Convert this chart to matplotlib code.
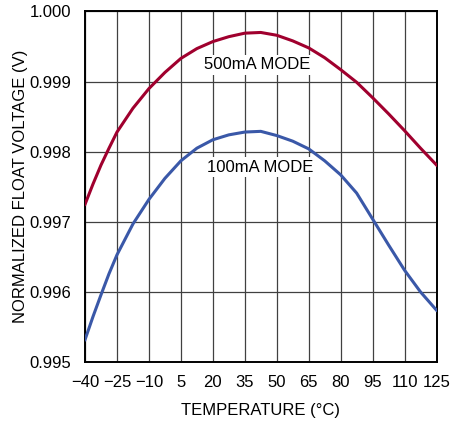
import matplotlib
matplotlib.use("Agg")
import matplotlib.pyplot as plt

plt.rcParams.update({
    "font.family": ["Liberation Sans", "DejaVu Sans"],
    "font.size": 12,
})

# data
temp = [-40, -36.25, -32.5, -28.75, -25, -17.5, -10, -2.5, 5, 12.5, 20, 27.5,
        35, 42.5, 50, 57.5, 65, 72.5, 80, 83.75, 87.5, 95, 102.5, 110,
        117.5, 125]
v_500ma = [0.99725, 0.99754, 0.99781, 0.99805, 0.99828, 0.99862, 0.99890,
           0.99913, 0.99933, 0.99947, 0.99957, 0.99964,
           0.99969, 0.99970, 0.99966, 0.99958, 0.99948, 0.99934, 0.99917,
           0.99908, 0.99899, 0.99877, 0.99854, 0.99830, 0.99805, 0.99781]
v_100ma = [0.99532, 0.99565, 0.99596, 0.99626, 0.99653, 0.99697, 0.99732,
           0.99762, 0.99787, 0.99805, 0.99817, 0.99824,
           0.99828, 0.99829, 0.99823, 0.99815, 0.99804, 0.99787, 0.99767,
           0.99754, 0.99741, 0.99704, 0.99667, 0.99631, 0.99600, 0.99574]

xticks = [-40, -25, -10, 5, 20, 35, 50, 65, 80, 95, 110, 125]
xtick_labels = ["\u221240", "\u221225", "\u221210", "5", "20", "35", "50",
                "65", "80", "95", "110", "125"]
yticks = [0.995, 0.996, 0.997, 0.998, 0.999, 1.000]

RED = "#A0002E"
BLUE = "#3A58A8"

fig = plt.figure(figsize=(4.5, 4.23), dpi=100)
ax = fig.add_axes([0.189, 0.144, 0.781, 0.829])

ax.plot(temp, v_500ma, color=RED, lw=2.2, zorder=3)
ax.plot(temp, v_100ma, color=BLUE, lw=2.2, zorder=3)

ax.set_xlim(-40, 125)
ax.set_ylim(0.995, 1.000)
ax.set_xticks(xticks)
ax.set_xticklabels(xtick_labels)
ax.set_yticks(yticks)
ax.set_yticklabels([f"{v:.3f}" for v in yticks])
ax.tick_params(length=0, labelsize=12)
ax.tick_params(axis="x", pad=9)
ax.tick_params(axis="y", pad=10)
ax.grid(True, color="#404040", lw=0.9)
ax.set_axisbelow(True)
for s in ax.spines.values():
    s.set_linewidth(1.4)

box = dict(boxstyle="square,pad=0.15", fc="white", ec="none")
ax.text(41, 0.99924, "500mA MODE", ha="center", va="center", fontsize=12,
        bbox=box, zorder=2)
ax.text(42, 0.99778, "100mA MODE", ha="center", va="center", fontsize=12,
        bbox=box, zorder=2)

ax.set_xlabel("TEMPERATURE (\u00b0C)", fontsize=12, labelpad=10)
ax.set_ylabel("NORMALIZED FLOAT VOLTAGE (V)", fontsize=12, labelpad=1)

fig.savefig("out.png", dpi=100)
